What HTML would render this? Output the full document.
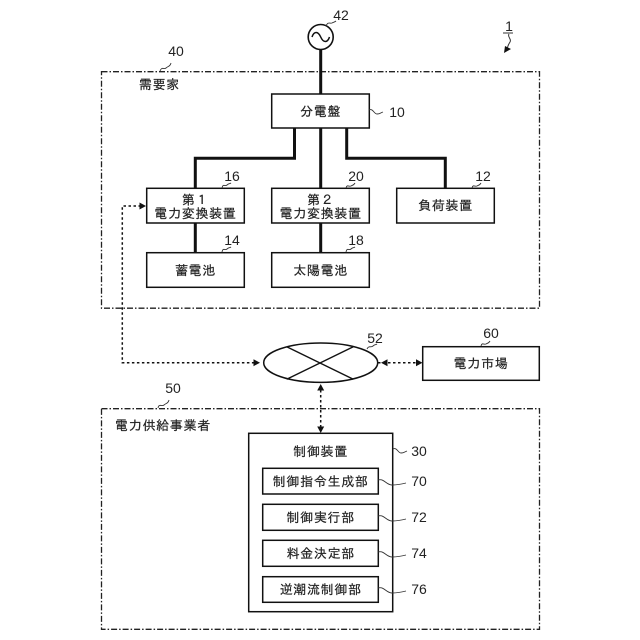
<!DOCTYPE html>
<html><head><meta charset="utf-8"><style>
html,body{margin:0;padding:0;background:#fff}
svg{display:block}
.j{font-family:"Liberation Sans","IPAGothic","Noto Sans CJK JP",sans-serif;font-size:13px;letter-spacing:.7px;text-anchor:middle;fill:#222;stroke:#222;stroke-width:.2}
.n{font-family:"Liberation Sans",sans-serif;font-size:14px;fill:#222;text-anchor:middle}
.b{fill:#fff;stroke:#111;stroke-width:1.5}
.d{fill:none;stroke:#222;stroke-width:1.3;stroke-dasharray:6 2 1.5 2}
.t{fill:none;stroke:#111;stroke-width:3}
.m{fill:none;stroke:#111;stroke-width:1.5;stroke-dasharray:2.5 2.5}
.s{fill:none;stroke:#333;stroke-width:.9}
</style></head><body>
<svg width="640" height="640" viewBox="0 0 640 640" xmlns="http://www.w3.org/2000/svg">
<rect class="d" x="101.5" y="71.7" width="438" height="236.5"/>
<rect class="d" x="101.5" y="408.7" width="438" height="220.6"/>

<path class="t" d="M320.7 50V94M320.7 128V188M294.5 128V158.3H195.3V188M346.7 128V158.3H445.3V188M195.3 223V253M320.7 223V253"/>

<circle cx="320.7" cy="37" r="12.5" fill="#fff" stroke="#111" stroke-width="1.6"/>
<path d="M312 37C314 31 318 31 320.7 37S327.500 43 329.500 37" fill="none" stroke="#111" stroke-width="1.5"/>

<rect class="b" x="271.7" y="94" width="97.600" height="34"/>
<rect class="b" x="146.700" y="188.300" width="97.600" height="34.700"/>
<rect class="b" x="271.700" y="188.300" width="97.600" height="34.700"/>
<rect class="b" x="396.700" y="188.300" width="97.600" height="34.700"/>
<rect class="b" x="146.700" y="252.700" width="97.600" height="34.600"/>
<rect class="b" x="271.700" y="252.700" width="97.600" height="34.600"/>
<rect class="b" x="422.700" y="346.700" width="116.600" height="33.600"/>

<path class="m" d="M141 206H122.300V362.700H258M368 362.700H417M320.700 390V428"/>
<path d="M146 206l-6.500-3.500v7zM260 362.700l-6.500-3.500v7zM381 362.700l6.500-3.500v7zM422.500 362.700l-6.500-3.500v7zM320.700 384l-3.500 6.500h7zM320.700 433l-3.500-6.500h7z" fill="#111"/>

<ellipse cx="320.700" cy="362.700" rx="57" ry="19.700" fill="#fff" stroke="#111" stroke-width="1.5"/>
<path d="M286.700 346.700L353.300 379.300M353.300 346.700L286.700 379.300" stroke="#111" stroke-width="1.4" fill="none"/>

<rect class="b" x="248.700" y="433.300" width="144" height="178.400"/>
<rect class="b" x="262.700" y="468.300" width="115.600" height="25.700"/>
<rect class="b" x="262.700" y="504.300" width="115.600" height="26"/>
<rect class="b" x="262.700" y="540.300" width="115.600" height="26"/>
<rect class="b" x="262.700" y="576.700" width="115.600" height="25.600"/>

<text class="j" x="159.500" y="89">需要家</text>
<text class="j" x="320.700" y="116">分電盤</text>
<text class="j" x="195.500" y="204.500">第１</text>
<text class="j" x="195.500" y="218">電力変換装置</text>
<text class="j" x="320.700" y="204.500">第２</text>
<text class="j" x="320.700" y="218">電力変換装置</text>
<text class="j" x="445.500" y="210">負荷装置</text>
<text class="j" x="195.500" y="275">蓄電池</text>
<text class="j" x="320.700" y="275">太陽電池</text>
<text class="j" x="481" y="368">電力市場</text>
<text class="j" x="163" y="430">電力供給事業者</text>
<text class="j" x="320.700" y="456">制御装置</text>
<text class="j" x="320.700" y="486">制御指令生成部</text>
<text class="j" x="320.700" y="522">制御実行部</text>
<text class="j" x="320.700" y="558">料金決定部</text>
<text class="j" x="320.700" y="594">逆潮流制御部</text>

<text class="n" x="341" y="20">42</text>
<text class="n" x="176" y="56">40</text>
<text class="n" x="509" y="31">1</text>
<text class="n" x="397" y="117">10</text>
<text class="n" x="232" y="181">16</text>
<text class="n" x="356" y="181">20</text>
<text class="n" x="483" y="181">12</text>
<text class="n" x="232" y="245">14</text>
<text class="n" x="356" y="245">18</text>
<text class="n" x="375" y="343">52</text>
<text class="n" x="491" y="338">60</text>
<text class="n" x="173" y="393">50</text>
<text class="n" x="419" y="456">30</text>
<text class="n" x="419" y="486">70</text>
<text class="n" x="419" y="522">72</text>
<text class="n" x="419" y="558">74</text>
<text class="n" x="419" y="594">76</text>

<path class="s" d="M326 26c2-5 4-2 6-3s3-1 4-2"/>
<path class="s" d="M160 71c2-5 4-1 6-3s4-1 5-5"/>
<path class="s" d="M369 110c4-2 5 4 8 4s3-1 6-2"/>
<path class="s" d="M222 188c1-5 3-1 5-3s3-1 4-2"/>
<path class="s" d="M346 188c1-4 3-1 5-2s3-1 4-3"/>
<path class="s" d="M472 188c1-4 3-1 5-2s3-1 4-3"/>
<path class="s" d="M222 252c1-5 3-1 5-3s3-1 4-2"/>
<path class="s" d="M346 252c1-5 3-1 5-3s3-1 4-2"/>
<path class="s" d="M367 349c2-4 4-1 6-3s3-1 4-2"/>
<path class="s" d="M481 346c1-4 3-1 5-2s3-1 4-3"/>
<path class="s" d="M158 408c1-5 4-1 6-3s4-1 5-5"/>
<path class="s" d="M393 449c4-2 5 4 8 4s3-1 6-2"/>
<path class="s" d="M378 480c6-2 8 5 14 5s10-1 14-2"/>
<path class="s" d="M378 516c6-2 8 5 14 5s10-1 14-2"/>
<path class="s" d="M378 552c6-2 8 5 14 5s10-1 14-2"/>
<path class="s" d="M378 588c6-2 8 5 14 5s10-1 14-2"/>

<path d="M503 33H513M509 34c-2 3 3 5 1 8s-2 4-3 7" fill="none" stroke="#333" stroke-width="1"/>
<path d="M504 53l1-7 6 3z" fill="#111"/>
</svg>
</body></html>
